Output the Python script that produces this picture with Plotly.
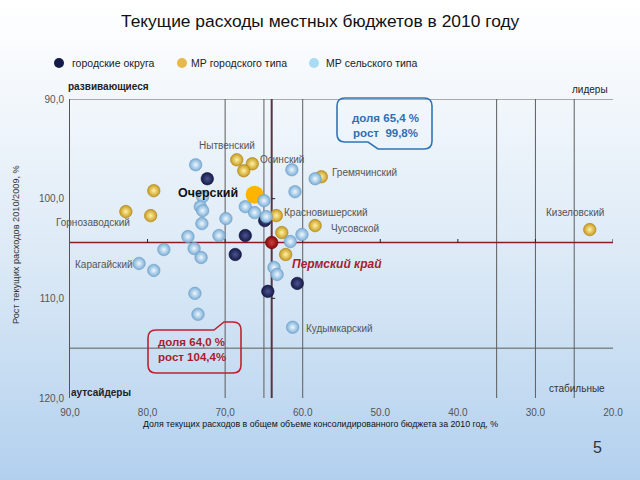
import base64
import plotly.graph_objects as go

# ---------------- data ----------------
title = "Текущие расходы местных бюджетов в 2010 году"

# городские округа
go_x = [72.3, 67.4, 68.7, 64.9, 64.5, 60.7]
go_y = [98.0, 103.7, 105.6, 102.2, 109.3, 108.5]

# МР городского типа
mrg_x = [82.8, 79.6, 79.2, 68.5, 66.5, 67.6, 63.4, 62.7, 58.4, 57.6, 62.2, 23.0]
mrg_y = [101.3, 101.7, 99.2, 96.1, 96.5, 97.2, 101.7, 103.4, 102.7, 97.8, 105.6, 103.1]

# Очерский (highlighted)
och_x = [66.2]
och_y = [99.6]

# МР сельского типа
mrs_x = [73.8, 61.4, 58.4, 61.0, 72.9, 73.2, 72.9, 73.0, 69.9, 67.4, 66.2, 65.0, 64.7,
         74.8, 70.8, 77.9, 74.0, 73.1, 81.1, 79.2, 73.9, 73.5, 61.3, 63.7, 63.3, 61.6, 60.1]
mrs_y = [96.6, 97.1, 98.0, 99.3, 99.8, 100.8, 101.2, 102.5, 102.0, 100.8, 101.4, 100.2, 101.8,
         103.8, 103.7, 105.1, 105.0, 105.9, 106.5, 107.2, 109.5, 111.6, 112.9, 106.9, 107.6, 104.3, 103.6]

# Пермский край (average)
perm_x = [64.0]
perm_y = [104.4]

x_ticks = [90, 80, 70, 60, 50, 40, 30, 20]
x_ticktext = ["90,0", "80,0", "70,0", "60.0", "50.0", "40.0", "30.0", "20.0"]
y_ticks = [90, 100, 110, 120]
y_ticktext = ["90,0", "100,0", "110,0", "120,0"]

# reference lines
v_lines = [70.0, 65.0, 60.0, 35.0, 30.0, 25.0]
h_lines = [90.0, 115.0]

# point labels: (text, x, y)
labels = [
    ("Нытвенский", 69.8, 94.7),
    ("Осинский", 62.7, 96.1),
    ("Гремячинский", 52.0, 97.4),
    ("Горнозаводский", 87.0, 102.4),
    ("Красновишерский", 57.0, 101.4),
    ("Чусовской", 53.3, 103.0),
    ("Кизеловский", 24.9, 101.4),
    ("Карагайский", 85.6, 106.6),
    ("Кудымкарский", 55.2, 113.0),
]

# ---------------- layout geometry ----------------
W, H = 640, 480
L, R, T, B = 70, 27, 99, 82
PW, PH = W - L - R, H - T - B


def px(x):
    return (x - L) / PW


def py(y):
    return (H - B - y) / PH


fig = go.Figure()


def sphere(xs, ys, color, hi, size, edge, name):
    fig.add_trace(go.Scatter(
        x=xs, y=ys, mode="markers", name=name, showlegend=False,
        marker=dict(size=size, color=color,
                    gradient=dict(type="radial", color=hi),
                    line=dict(width=0.6, color=edge)),
        hoverinfo="skip", cliponaxis=False))


sphere(go_x, go_y, "#161a48", "#4c5590", 12.5, "#10123a", "городские округа")
sphere(mrg_x, mrg_y, "#c89a1c", "#fff2a8", 12.5, "#a8801a", "МР городского типа")
fig.add_trace(go.Scatter(x=och_x, y=och_y, mode="markers", showlegend=False,
                         marker=dict(size=18, color="#ffb400", line=dict(width=0)),
                         hoverinfo="skip"))
sphere(mrs_x, mrs_y, "#7aaed6", "#eef7ff", 12.5, "#6d9dc4", "МР сельского типа")
sphere(perm_x, perm_y, "#8a0808", "#d04040", 12.5, "#5a0000", "Пермский край")

shapes = []
# grid / reference lines
for v in v_lines:
    shapes.append(dict(type="line", xref="x", yref="y", x0=v, x1=v, y0=90, y1=120,
                       line=dict(color="#5c5c5c", width=1), layer="below"))
for h in h_lines:
    shapes.append(dict(type="line", xref="x", yref="y", x0=90, x1=20, y0=h, y1=h,
                       line=dict(color="#5c5c5c", width=1), layer="below"))
# crosshair through Пермский край
shapes.append(dict(type="line", xref="x", yref="y", x0=perm_x[0], x1=perm_x[0], y0=90, y1=120,
                   line=dict(color="#5b3444", width=2), layer="below"))
shapes.append(dict(type="line", xref="x", yref="y", x0=90, x1=20, y0=perm_y[0], y1=perm_y[0],
                   line=dict(color="#8e1a22", width=1.5), layer="below"))
for t in x_ticks[1:]:
    shapes.append(dict(type="line", xref="x", yref="y", x0=t, x1=t,
                       y0=perm_y[0] - 0.35, y1=perm_y[0],
                       line=dict(color="#222", width=1), layer="below"))
for t in [100, 110]:
    shapes.append(dict(type="line", xref="x", yref="y", x0=perm_x[0], x1=perm_x[0] - 0.45,
                       y0=t, y1=t, line=dict(color="#222", width=1), layer="below"))

# legend dots
for cx, col in [(59, "#161a48"), (182, "#e8b84a"), (314, "#a8dcf4")]:
    shapes.append(dict(type="circle", xref="paper", yref="paper",
                       x0=px(cx - 5), x1=px(cx + 5), y0=py(68), y1=py(58),
                       fillcolor=col, line=dict(width=0)))


def path(points):
    s = ""
    for cmd, pts in points:
        s += cmd + " ".join(f"{px(a):.5f},{py(b):.5f}" for a, b in pts) + " "
    return s + "Z"


# blue callout (tail at bottom)
r = 8
blue = [("M", [(337 + r, 98)]), ("L", [(432 - r, 98)]), ("Q", [(432, 98), (432, 98 + r)]),
        ("L", [(432, 149 - r)]), ("Q", [(432, 149), (432 - r, 149)]),
        ("L", [(378, 149)]), ("L", [(368, 142)]), ("L", [(337 + r, 142)]),
        ("Q", [(337, 142), (337, 142 - r)]), ("L", [(337, 98 + r)]), ("Q", [(337, 98), (337 + r, 98)])]
shapes.append(dict(type="path", xref="paper", yref="paper", path=path(blue),
                   line=dict(color="#2f75b8", width=1.6), fillcolor="rgba(0,0,0,0)"))
# red callout (tail at top)
red = [("M", [(148 + r, 330)]), ("L", [(214, 330)]), ("L", [(224, 322)]), ("L", [(241 - r, 322)]),
       ("Q", [(241, 322), (241, 322 + r)]), ("L", [(241, 373 - r)]), ("Q", [(241, 373), (241 - r, 373)]),
       ("L", [(148 + r, 373)]), ("Q", [(148, 373), (148, 373 - r)]), ("L", [(148, 330 + r)]),
       ("Q", [(148, 330), (148 + r, 330)])]
shapes.append(dict(type="path", xref="paper", yref="paper", path=path(red),
                   line=dict(color="#c0222e", width=1.6), fillcolor="rgba(0,0,0,0)"))

ann = []
FONT = "Liberation Sans, Arial, sans-serif"


def note(text, x, y, size, color, ref="paper", **kw):
    d = dict(text=text, x=x, y=y, xref="paper" if ref == "paper" else "x",
             yref="paper" if ref == "paper" else "y", showarrow=False,
             xanchor=kw.pop("xanchor", "center"), yanchor="middle",
             font=dict(family=FONT, size=size, color=color))
    d.update(kw)
    ann.append(d)


for text, x, y in labels:
    note(text, x, y, 10, "#555", ref="data")
note("<b>Очерский</b>", 72.2, 99.4, 12.5, "#111", ref="data")
note("<b><i>Пермский край</i></b>", 55.6, 106.6, 12, "#a81c30", ref="data")
# quadrant labels
note("<b>развивающиеся</b>", px(108), py(86), 10, "#222")
note("лидеры", px(590), py(89), 10, "#222")
note("<b>аутсайдеры</b>", px(101), py(392), 10, "#222")
note("стабильные", px(577), py(388), 10, "#333")
# callout text
note("<b>доля 65,4 %<br>рост  99,8%</b>", px(385), py(125), 11.5, "#2f6fb3", align="center")
note("<b>доля 64,0 %<br>рост 104,4%</b>", px(192), py(349), 11.5, "#a81c2c", align="left")
# title
note(title, px(320), py(21), 17.4, "#111")
# legend text
for tx, lx in [("городские округа", 70), ("МР городского типа", 189), ("МР сельского типа", 324)]:
    note(tx, px(lx), py(63), 10.5, "#222", xanchor="left")
# axis titles
note("Доля текущих расходов в общем объеме консолидированного бюджета за 2010 год, %",
     px(320), py(424), 8.8, "#111")
note("Рост текущих расходов 2010/2009, %", px(16), py(245), 9.2, "#333", textangle=-90)
# slide number
note("5", px(597), py(447), 16, "#333")

svg = ('<svg xmlns="http://www.w3.org/2000/svg" width="640" height="480" preserveAspectRatio="none">'
       '<defs><linearGradient id="g" x1="0" y1="0" x2="0" y2="1">'
       '<stop offset="0" stop-color="#ffffff"/><stop offset="0.18" stop-color="#f4f8fc"/>'
       '<stop offset="0.55" stop-color="#dbe9f6"/><stop offset="1" stop-color="#b2d0ee"/>'
       '</linearGradient></defs><rect width="640" height="480" fill="url(#g)"/></svg>')
bg = "data:image/svg+xml;base64," + base64.b64encode(svg.encode()).decode()

fig.update_layout(
    width=W, height=H, autosize=False,
    margin=dict(l=L, r=R, t=T, b=B, pad=0),
    paper_bgcolor="#ffffff", plot_bgcolor="rgba(0,0,0,0)",
    showlegend=False,
    images=[dict(source=bg, xref="paper", yref="paper", x=-L / PW, y=1 + T / PH,
                 sizex=W / PW, sizey=H / PH, xanchor="left", yanchor="top",
                 sizing="stretch", layer="below")],
    xaxis=dict(range=[90, 20], tickvals=x_ticks, ticktext=x_ticktext, showgrid=False,
               zeroline=False, showline=False, ticks="", ticklabelstandoff=7,
               tickfont=dict(family=FONT, size=10, color="#555")),
    yaxis=dict(range=[120, 90], tickvals=y_ticks, ticktext=y_ticktext, showgrid=False,
               zeroline=False, showline=True, linecolor="#555", linewidth=1, ticks="",
               ticklabelstandoff=3,
               tickfont=dict(family=FONT, size=10, color="#555")),
    shapes=shapes, annotations=ann,
)

fig.write_html(
    "out.html",
    config={"displayModeBar": False},
    post_script="document.body.style.margin='0px';document.body.style.padding='0px';"
                "document.body.style.overflow='hidden';",
)
